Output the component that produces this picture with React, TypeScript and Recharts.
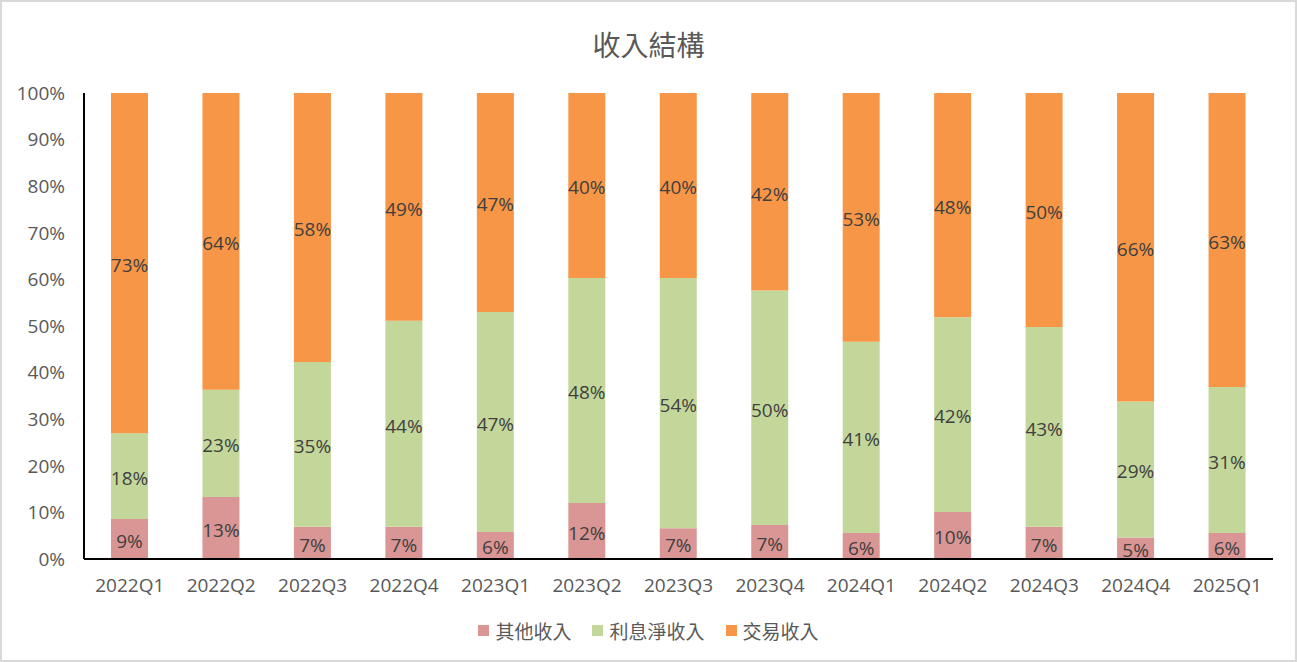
import React from "react";
import { BarChart, Bar, XAxis, YAxis, LabelList } from "recharts";

const categories = ["2022Q1","2022Q2","2022Q3","2022Q4","2023Q1","2023Q2","2023Q3","2023Q4","2024Q1","2024Q2","2024Q3","2024Q4","2025Q1"];
const otherIncome = [8.6, 13.3, 6.9, 6.9, 5.8, 12.0, 6.6, 7.3, 5.6, 10.1, 6.9, 4.6, 5.6];
const netInterest = [18.4, 23.0, 35.4, 44.2, 47.2, 48.3, 53.7, 50.3, 41.0, 41.8, 42.9, 29.2, 31.3];
const tradingIncome = [73.0, 63.7, 57.7, 48.9, 47.0, 39.7, 39.7, 42.4, 53.4, 48.1, 50.2, 66.2, 63.1];
const yTicks = [0, 10, 20, 30, 40, 50, 60, 70, 80, 90, 100];

const seriesNames = ["其他收入", "利息淨收入", "交易收入"];
const colors = ["#DA9694", "#C4D79B", "#F79646"];

const data = categories.map((c, i) => ({
  name: c,
  other: otherIncome[i],
  net: netInterest[i],
  trade: tradingIncome[i],
}));

const FONT = "'Open Sans', 'Noto Sans CJK TC', sans-serif";
const fmt = (v: any) => `${Math.round(Number(v))}%`;

export default function App() {
  const keys = ["other", "net", "trade"];
  return (
    <div style={{ position: "absolute", left: 0, top: 0, width: 1297, height: 662, background: "#fff", fontFamily: FONT }}>
      <div style={{ position: "absolute", left: 0, top: 0, width: 1297, height: 662, boxSizing: "border-box", border: "2px solid #D9D9D9", pointerEvents: "none", zIndex: 2 }} />
      <div style={{ position: "absolute", left: 0, top: 24, width: 1297, textAlign: "center", fontSize: 28, color: "#595959", fontFamily: "'Noto Sans CJK TC', sans-serif", lineHeight: "40px" }}>
        收入結構
      </div>
      <div style={{ position: "absolute", left: 0, top: 0 }}>
        <BarChart width={1297} height={662} data={data} margin={{ top: 93, right: 24, bottom: 0, left: 0 }} barCategoryGap={27}>
          <XAxis
            dataKey="name"
            height={103}
            tickSize={0}
            tickMargin={20}
            axisLine={{ stroke: "#000", strokeWidth: 2 }}
            tick={{ fill: "#595959", fontSize: 19, fontFamily: FONT }}
            interval={0}
          />
          <YAxis
            width={84}
            domain={[0, 100]}
            ticks={yTicks}
            tickFormatter={(v) => `${v}%`}
            tickSize={0}
            tickMargin={19}
            axisLine={{ stroke: "#000", strokeWidth: 2 }}
            tick={{ fill: "#595959", fontSize: 19, fontFamily: FONT }}
            allowDataOverflow
          />
          {keys.map((k, i) => (
            <Bar key={k} dataKey={k} stackId="a" fill={colors[i]} name={seriesNames[i]} isAnimationActive={false}>
              <LabelList dataKey={k} position="center" formatter={fmt} fill="#404040" fontSize={19} fontFamily={FONT} dy={2} />
            </Bar>
          ))}
        </BarChart>
      </div>
      <div style={{ position: "absolute", left: 0, top: 617, width: 1297, display: "flex", justifyContent: "center", alignItems: "center", fontSize: 19, color: "#595959", fontFamily: "'Noto Sans CJK TC', sans-serif" }}>
        {seriesNames.map((n, i) => (
          <div key={n} style={{ display: "flex", alignItems: "center", marginRight: i < 2 ? 21 : 0 }}>
            <div style={{ width: 11, height: 11, background: colors[i], marginRight: 6 }} />
            <span>{n}</span>
          </div>
        ))}
      </div>
    </div>
  );
}
